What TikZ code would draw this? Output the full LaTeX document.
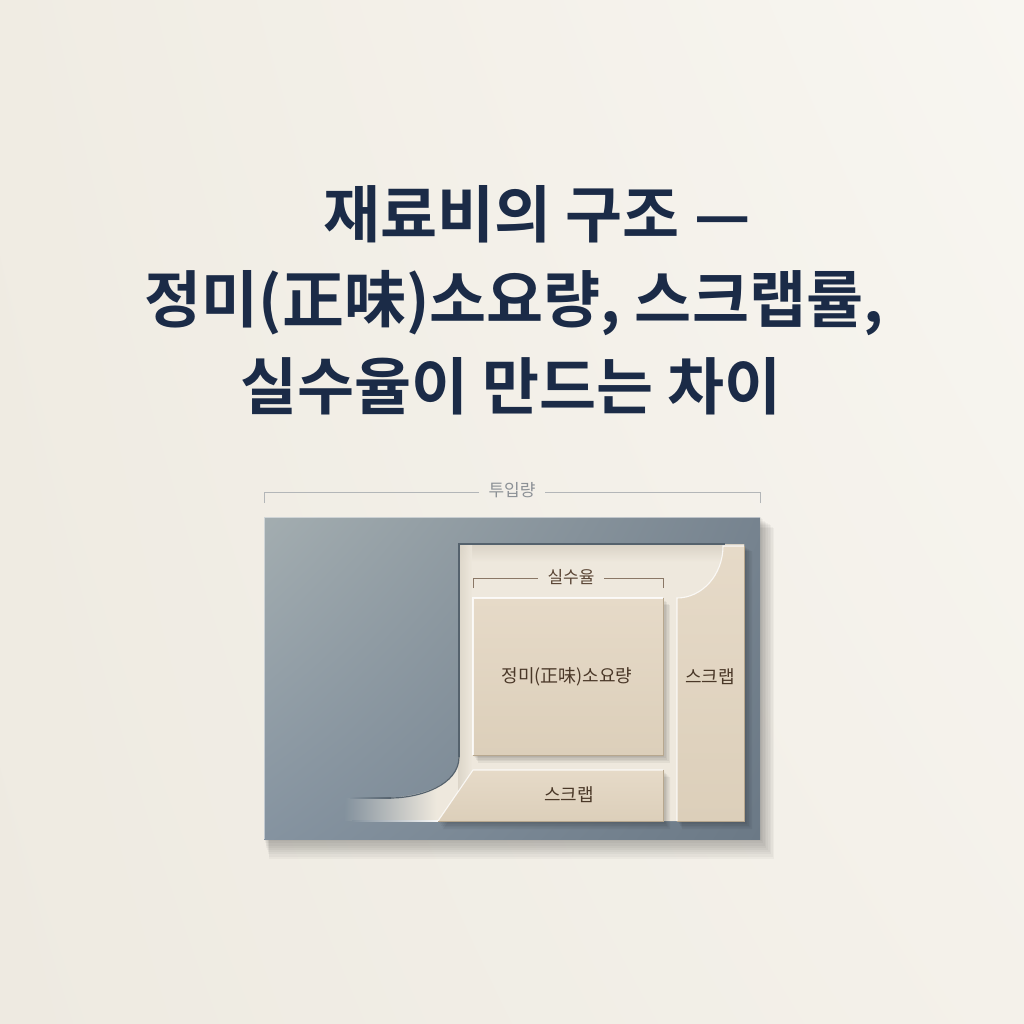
\documentclass[tikz,border=0pt]{standalone}
\usepackage{fontspec}
\setmainfont{Noto Sans CJK KR}[BoldFont={Noto Sans CJK KR Bold}]
\usetikzlibrary{fadings,shadings,calc}
\definecolor{bgA}{HTML}{F0ECE3}
\definecolor{bgB}{HTML}{F8F6F1}
\definecolor{bgC}{HTML}{EEEAE1}
\definecolor{bgD}{HTML}{F4F1EA}
\definecolor{plUL}{HTML}{A3ADB0}
\definecolor{plUR}{HTML}{76838F}
\definecolor{plLL}{HTML}{8593A0}
\definecolor{plLR}{HTML}{6B7986}
\definecolor{plTail}{HTML}{83919D}
\definecolor{plEdge}{HTML}{55626D}
\definecolor{cream}{HTML}{EEE8DD}
\definecolor{creamDark}{HTML}{D8D1C4}
\definecolor{beigeT}{HTML}{E6DAC8}
\definecolor{beigeB}{HTML}{DCCFBA}
\definecolor{beigeEdge}{HTML}{B7A78E}
\definecolor{titleC}{HTML}{1B2B47}
\definecolor{labelC}{HTML}{4A3828}
\definecolor{brGray}{HTML}{B3B6B8}
\definecolor{brGrayT}{HTML}{8C9196}
\definecolor{brBrown}{HTML}{8A7766}
\definecolor{brBrownT}{HTML}{5A4535}
\tikzset{
  titletext/.style={font=\fontsize{62}{62}\selectfont\bfseries, text=titleC, anchor=base, inner sep=0pt},
  piecelabel/.style={font=\fontsize{18}{18}\selectfont, text=labelC, inner sep=0pt},
  bracketlabel/.style={font=\fontsize{17}{17}\selectfont, inner sep=0pt},
  piecefill/.style={top color=beigeT, bottom color=beigeB},
  piecehi/.style={draw=white, draw opacity=0.8, line width=1.1pt},
  pieceshadow/.style={fill=black, fill opacity=0.05},
}
\begin{document}
\begin{tikzpicture}[x=1pt,y=-1pt]
\useasboundingbox (0,0) rectangle (1024,1024);
% background
\shade[upper left=bgA, upper right=bgB, lower left=bgC, lower right=bgD] (0,0) rectangle (1024,1024);

% plate shadow
\foreach \i in {1,...,9}{
  \fill[black, opacity=0.03] (264+0.6*\i,517+1.2*\i) rectangle (760+1.6*\i,839+2.2*\i);
}
% plate
\shade[upper left=plUL, upper right=plUR, lower left=plLL, lower right=plLR] (264,517) rectangle (760,839);
\draw[white, opacity=0.5, line width=0.8pt] (264,839) -- (264,517) -- (760,517);

% cutout
\begin{scope}
  \clip (459,544) -- (744,544) -- (744,821) -- (345,821) -- (345,798) -- (380,798)
   .. controls (420,798) and (459,785) .. (459,757) -- cycle;
  \fill[cream] (436,540) rectangle (750,825);
  \shade[left color=plTail, right color=cream] (344,780) rectangle (436.5,825);
  \shade[top color=creamDark, bottom color=cream] (455,543) rectangle (748,562);
  \shade[left color=creamDark, right color=cream, opacity=0.8] (458,544) rectangle (472,790);
\end{scope}
% cutout edges
\draw[plEdge, line width=1.3pt] (459,757) -- (459,544) -- (725,544);
\draw[plEdge, line width=1.2pt] (459,757) .. controls (459,785) and (420,798) .. (390,798);
\shade[left color=plTail, right color=plEdge] (350,797.5) rectangle (391,798.7);
\shade[left color=plTail, right color=white!85!cream] (352,820.4) rectangle (440,821.6);

% piece shadows
\foreach \i in {1,...,5}{
  \fill[pieceshadow] (473+\i,598+1.4*\i) rectangle (663+1.4*\i,755+1.6*\i);
  \fill[pieceshadow] (473+\i,770+1.4*\i) -- (663+1.4*\i,770+1.4*\i) -- (663+1.4*\i,821+1.6*\i) -- (438+\i,821+1.6*\i) -- cycle;
  \fill[pieceshadow] (677+\i,821+1.6*\i) -- (677+\i,598+\i) .. controls (702+\i,598+\i) and (723+\i,575+\i) .. (723+\i,546+\i) -- (744+1.6*\i,546+\i) -- (744+1.6*\i,821+1.6*\i) -- cycle;
}

% pieces
\path[piecefill] (473,598) rectangle (663,755);
\draw[piecehi] (473,755) -- (473,598) -- (663,598);
\draw[beigeEdge, line width=0.8pt] (663,598) -- (663,755) -- (473,755);

\path[piecefill] (473,770) -- (663,770) -- (663,821) -- (438,821) -- cycle;
\draw[piecehi] (438,821) -- (473,770) -- (663,770);
\draw[beigeEdge, line width=0.8pt] (663,770) -- (663,821) -- (438,821);

\path[piecefill] (677,821) -- (677,598) .. controls (702,598) and (723,575) .. (723,546) -- (744,546) -- (744,821) -- cycle;
\draw[piecehi] (677,821) -- (677,598) .. controls (702,598) and (723,575) .. (723,546) -- (744,546);
\draw[beigeEdge, line width=0.8pt] (744,546) -- (744,821) -- (677,821);

% labels
\node[piecelabel] (net) at (567,677) {정미(正味)소요량};
\node[piecelabel] (scrapR) at (710,677) {스크랩};
\node[piecelabel] (scrapB) at (569,795) {스크랩};

% brackets
\node[bracketlabel, text=brGrayT] (input) at (512,490) {투입량};
\coordinate (inL) at (264,503);
\coordinate (inR) at (760,503);
\draw[brGray, line width=0.9pt] (inL) -- ++(0,-11) -- ($(input.west)+(-9,2)$);
\draw[brGray, line width=0.9pt] (inR) -- ++(0,-11) -- ($(input.east)+(9,2)$);

\node[bracketlabel, text=brBrownT] (yield) at (571,577) {실수율};
\coordinate (yL) at (473,588);
\coordinate (yR) at (663,588);
\draw[brBrown, line width=0.9pt] (yL) -- ++(0,-10) -- ($(yield.west)+(-9,1)$);
\draw[brBrown, line width=0.9pt] (yR) -- ++(0,-10) -- ($(yield.east)+(9,1)$);

% title
\node[titletext] (t1) at (537,237) {재료비의 구조 —};
\node[titletext] (t2) at (514,322) {정미(正味)소요량, 스크랩률,};
\node[titletext] (t3) at (511,409) {실수율이 만드는 차이};
\end{tikzpicture}
\end{document}
